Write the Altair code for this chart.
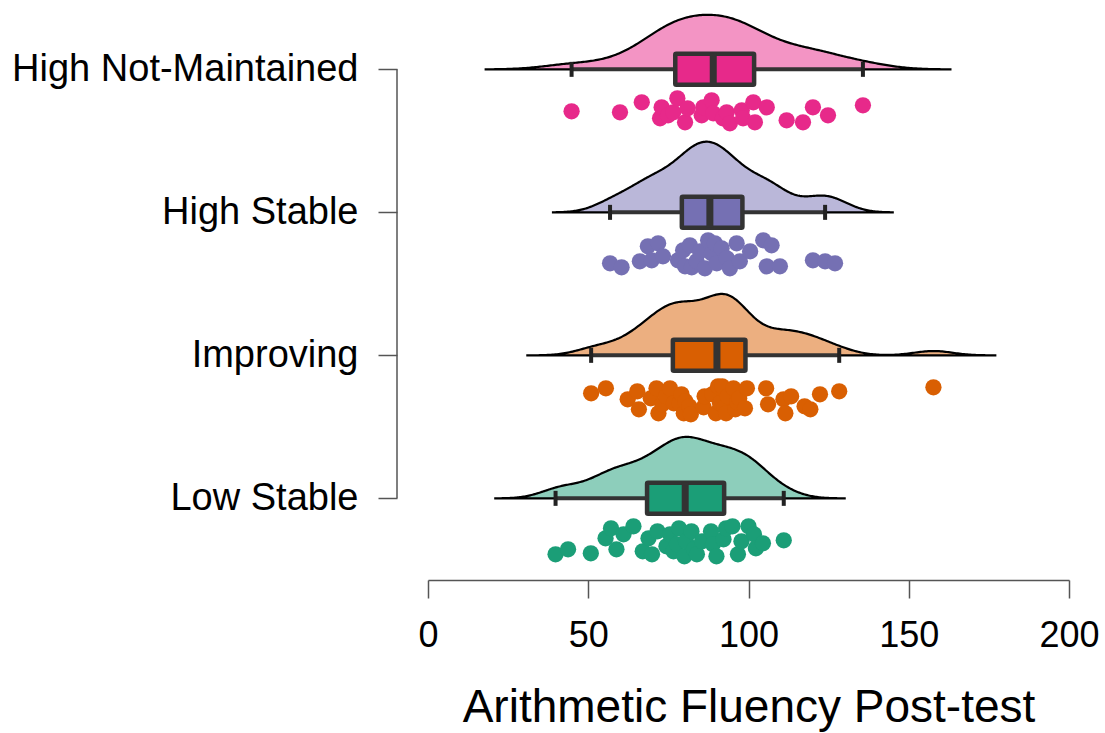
import altair as alt
import pandas as pd

# ---------------- data ----------------
groups = ["High Not-Maintained", "High Stable", "Improving", "Low Stable"]
group_pos = [3, 2, 1, 0]
colors = ["#E7298A", "#7570B3", "#D95F02", "#1B9E77"]

hnm_values = [44.8, 59.9, 66.7, 72.4, 72.9, 74.9, 76.5, 77.8, 80.2, 81.0, 85.4, 85.9,
              88.5, 89.0, 92.0, 93.2, 94.2, 97.9, 98.3, 101.5, 102.0, 105.7, 111.9,
              117.0, 120.1, 124.8, 135.7]
hnm_jitter = [42, 43, 33, 49, 38, 46, 43, 29, 53, 39, 46, 38,
              31, 44, 49, 43, 54, 41, 49, 33, 53, 38, 51,
              53, 38, 46, 36]

hs_values = [56.8, 60.4, 66.1, 68.6, 69.8, 71.8, 73.3, 78.0, 79.6, 80.2, 81.7, 82.3,
             83.8, 84.9, 86.4, 87.4, 88.5, 89.5, 90.1, 91.6, 93.2, 94.2, 96.3, 97.3,
             100.5, 104.6, 105.7, 107.2, 109.8, 120.1, 123.9, 127.0]
hs_jitter = [51, 55, 49, 34, 48, 31, 44, 48, 38, 54, 33, 55,
             49, 39, 56, 28, 41, 31, 51, 36, 46, 56, 31, 49,
             39, 28, 54, 33, 54, 48, 49, 51]

imp_values = [50.9, 55.5, 62.3, 65.3, 65.8, 69.5, 71.3, 71.9, 73.1, 74.3, 75.5, 76.7,
              78.5, 79.1, 79.8, 80.3, 81.5, 82.0, 86.0, 86.3, 88.7, 89.8, 90.5, 91.1,
              91.8, 92.5, 93.0, 93.5, 95.3, 95.9, 96.5, 97.1, 98.9, 99.5, 105.5, 106.1,
              110.9, 111.5, 113.3, 117.5, 119.3, 122.3, 128.3, 157.7]
imp_jitter = [38, 33, 44, 36, 54, 43, 33, 58, 49, 41, 33, 48,
              48, 39, 58, 46, 51, 59, 52, 41, 39, 58, 31, 48,
              31, 52, 58, 41, 33, 54, 47, 43, 53, 33, 33, 49,
              44, 58, 41, 51, 54, 39, 36, 32]

ls_values = [39.8, 43.7, 50.8, 55.4, 57.1, 58.8, 61.0, 64.1, 67.0, 68.8, 69.9, 71.6,
             74.4, 75.5, 76.6, 77.7, 78.3, 80.0, 80.5, 82.2, 83.0, 83.9, 85.5, 88.3,
             88.9, 90.0, 92.2, 93.0, 95.0, 96.7, 97.8, 100.0, 101.7, 102.3, 104.5, 111.0]
ls_jitter = [56, 51, 55, 40, 30, 51, 36, 28, 53, 40, 56, 33,
             48, 36, 53, 46, 30, 58, 43, 33, 51, 56, 43, 33,
             46, 58, 41, 30, 28, 56, 43, 28, 36, 50, 45, 42]

# kernel bandwidths and density extents
density_bw = [9.0, 6.0, 6.0, 6.0]
density_extent = [[18, 163], [39, 145], [31, 177], [21, 130]]

x_ticks = [0, 50, 100, 150, 200]
x_title = "Arithmetic Fluency Post-test"

# ---------------- layout / style constants ----------------
FONT = "Liberation Sans"
PLOT_W, PLOT_H = 641, 572
Y_DOMAIN = [-0.55, 3.45]
UNIT_PX = PLOT_H / (Y_DOMAIN[1] - Y_DOMAIN[0])
K = 20.0  # density scale (y-units per density unit)
BOX_HALF = 15.5 / UNIT_PX
CAP_HALF = 7.5 / UNIT_PX
DARK = "#333333"
AXIS_COL = "#555555"

all_values = [hnm_values, hs_values, imp_values, ls_values]
all_jitter = [hnm_jitter, hs_jitter, imp_jitter, ls_jitter]
rows = []
for g, p, vals, jit in zip(groups, group_pos, all_values, all_jitter):
    for v, j in zip(vals, jit):
        rows.append({"group": g, "pos": p, "value": v, "jitter": j})
df = pd.DataFrame(rows)

xscale = alt.Scale(domain=[0, 200], nice=False, zero=False)
yscale = alt.Scale(domain=Y_DOMAIN, nice=False, zero=False)
color_scale = alt.Scale(domain=groups, range=colors)

label_expr = " : ".join(
    [f"datum.value == {p} ? '{g}'" for g, p in zip(groups[:-1], group_pos[:-1])]
) + f" : '{groups[-1]}'"

x_axis = alt.Axis(
    values=x_ticks, offset=3, tickSize=18, tickColor=AXIS_COL, tickWidth=1.5,
    domainColor=AXIS_COL, domainWidth=1.5, grid=False,
    labelFont=FONT, labelFontSize=36, labelColor="black", labelPadding=20,
    labelOverlap=False, labelFlush=False,
    title=x_title, titleFont=FONT, titleFontSize=46, titleFontWeight="normal",
    titleColor="black", titlePadding=32,
)
y_axis = alt.Axis(
    values=group_pos, labelExpr=label_expr, offset=31, domain=False, grid=False,
    tickSize=19, tickColor=AXIS_COL, tickWidth=1.5,
    labelFont=FONT, labelFontSize=38, labelColor="black", labelPadding=20,
    labelLimit=1000, title="",
)


def X(field):
    return alt.X(field, scale=xscale, axis=x_axis, title=x_title)


def Y(field):
    return alt.Y(field, scale=yscale, axis=y_axis, title="")


layers = []

# densities (half violins)
for g, p, c, bw, ext in zip(groups, group_pos, colors, density_bw, density_extent):
    dens = (
        alt.Chart(df)
        .transform_filter(alt.datum.group == g)
        .transform_density("value", as_=["value", "density"], bandwidth=bw, extent=ext, steps=300)
        .transform_calculate(top=f"{p} + datum.density * {K}", base=f"{p}")
        .mark_area(fill=c, fillOpacity=0.5, stroke="black", strokeWidth=2.2, orient="vertical")
        .encode(x=X("value:Q"), y=Y("top:Q"), y2="base:Q")
    )
    layers.append(dens)

# y-axis spine (only between first and last category)
spine = (
    alt.Chart(pd.DataFrame({"a": [min(group_pos)], "b": [max(group_pos)]}))
    .mark_rule(color=AXIS_COL, strokeWidth=1.5)
    .encode(x=alt.value(-31), y=Y("a:Q"), y2="b:Q")
)
layers.append(spine)

# box statistics
stats = (
    alt.Chart(df)
    .transform_joinaggregate(gq1="q1(value)", gq3="q3(value)", groupby=["group"])
    .transform_calculate(
        inr="datum.value >= datum.gq1 - 1.5*(datum.gq3-datum.gq1) && datum.value <= datum.gq3 + 1.5*(datum.gq3-datum.gq1) ? datum.value : null"
    )
    .transform_aggregate(
        q1="q1(value)", med="median(value)", q3="q3(value)", wlo="min(inr)", whi="max(inr)",
        groupby=["group", "pos"],
    )
    .transform_calculate(
        btop=f"datum.pos + {BOX_HALF}", bbot=f"datum.pos - {BOX_HALF}",
        ctop=f"datum.pos + {CAP_HALF}", cbot=f"datum.pos - {CAP_HALF}",
    )
)

whisker = stats.mark_rule(color=DARK, strokeWidth=4).encode(
    x=X("wlo:Q"), x2="whi:Q", y=Y("pos:Q"),
)
box = stats.mark_rect(stroke=DARK, strokeWidth=4.5, cornerRadius=1).encode(
    x=X("q1:Q"), x2="q3:Q", y=Y("bbot:Q"), y2="btop:Q",
    fill=alt.Fill("group:N", scale=color_scale, legend=None),
)
median = stats.mark_rule(color=DARK, strokeWidth=7).encode(
    x=X("med:Q"), y=Y("bbot:Q"), y2="btop:Q",
)
cap_lo = stats.mark_rule(color="#222222", strokeWidth=4).encode(
    x=X("wlo:Q"), y=Y("cbot:Q"), y2="ctop:Q",
)
cap_hi = stats.mark_rule(color="#222222", strokeWidth=4).encode(
    x=X("whi:Q"), y=Y("cbot:Q"), y2="ctop:Q",
)
layers += [whisker, box, median, cap_lo, cap_hi]

# rain (points)
points = (
    alt.Chart(df)
    .transform_calculate(ypt=f"datum.pos - datum.jitter / {UNIT_PX}")
    .mark_circle(size=265, opacity=1)
    .encode(
        x=X("value:Q"), y=Y("ypt:Q"),
        color=alt.Color("group:N", scale=color_scale, legend=None),
    )
)
layers.append(points)

chart = (
    alt.layer(*layers)
    .properties(
        width=PLOT_W, height=PLOT_H,
        autosize=alt.AutoSizeParams(type="none"),
        padding={"left": 428, "top": 5, "right": 36, "bottom": 156},
        background="white",
    )
    .configure_view(stroke=None)
)

chart.save("out.html", embed_options={"renderer": "svg", "actions": False})
